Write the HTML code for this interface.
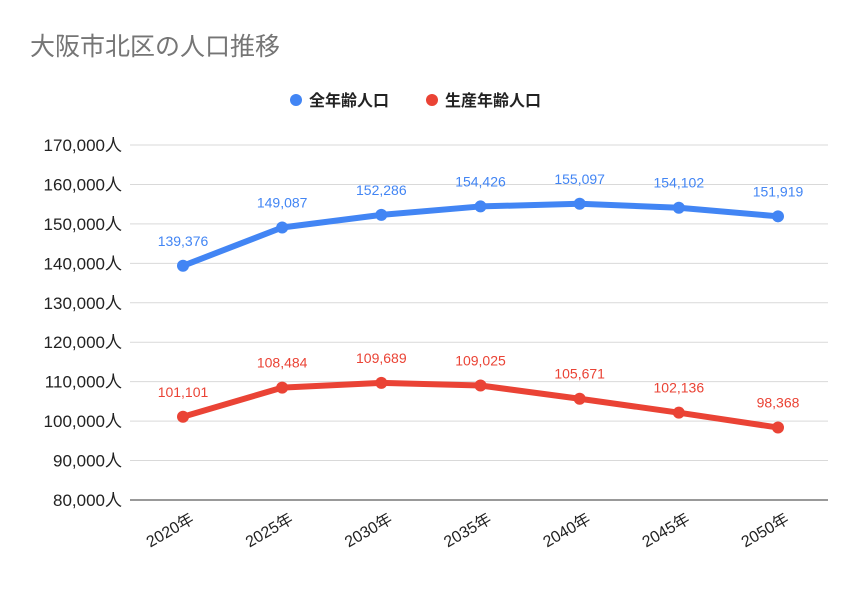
<!DOCTYPE html>
<html><head><meta charset="utf-8"><style>
body{margin:0;background:#fff;}
svg text{font-family:"Liberation Sans","Noto Sans CJK JP",sans-serif;}
</style></head><body>
<svg width="857" height="586" xmlns="http://www.w3.org/2000/svg">
<text x="30" y="55" font-size="25" fill="#757575">大阪市北区の人口推移</text>
<g>
<circle cx="296" cy="100" r="6" fill="#4285f4"/>
<text x="309" y="106" font-size="16" font-weight="bold" fill="#222">全年齢人口</text>
<circle cx="432" cy="100" r="6" fill="#ea4335"/>
<text x="445" y="106" font-size="16" font-weight="bold" fill="#222">生産年齢人口</text>
</g>
<g id="grid"></g>
<g id="yl"></g>
<g id="xl"></g>
<g id="series"></g>
</svg>
<script>
const categories=["2020年","2025年","2030年","2035年","2040年","2045年","2050年"];
const totalValues=[139376,149087,152286,154426,155097,154102,151919];
const workingValues=[101101,108484,109689,109025,105671,102136,98368];
const yTicks=[80000,90000,100000,110000,120000,130000,140000,150000,160000,170000];
const NS="http://www.w3.org/2000/svg";
const yMin=80000,yMax=170000,plotTop=145,plotBot=500,x0=183,x1=778,plotLeft=130,plotRight=828;
function y(v){return plotBot-(v-yMin)/(yMax-yMin)*(plotBot-plotTop);}
function x(i){return x0+i*(x1-x0)/(categories.length-1);}
function mk(t,a,p){const e=document.createElementNS(NS,t);for(const k in a)e.setAttribute(k,a[k]);p.appendChild(e);return e;}
const fmt=v=>v.toLocaleString('en-US');
const grid=document.getElementById('grid'),yl=document.getElementById('yl'),xl=document.getElementById('xl'),ser=document.getElementById('series');
yTicks.forEach(t=>{
 const l=mk('line',{x1:plotLeft,x2:plotRight,y1:y(t),y2:y(t),stroke:t===yMin?'#333':'#d9d9d9','stroke-width':1},grid);
 
 
 const tx=mk('text',{x:122,y:y(t)+6,'font-size':17,'text-anchor':'end',fill:'#222'},yl);
 tx.textContent=fmt(t)+'人';
 
 
});
categories.forEach((c,i)=>{
 const tx=mk('text',{x:x(i)+12,y:522,'font-size':16,'text-anchor':'end',fill:'#222',transform:`rotate(-30 ${x(i)+12} 522)`},xl);
 tx.textContent=c;
 
 
});
function draw(vals,color,name){
 const g=mk('g',{},ser);
 
 
 const p=mk('polyline',{points:vals.map((v,i)=>x(i)+','+y(v)).join(' '),fill:'none',stroke:color,'stroke-width':6,'stroke-linejoin':'round'},g);
 
 
 vals.forEach((v,i)=>{
  const c=mk('circle',{cx:x(i),cy:y(v),r:6,fill:color},g);
  
  
  const t=mk('text',{x:x(i),y:y(v)-20,'font-size':14,'text-anchor':'middle',fill:color},g);
  t.textContent=fmt(v);
  
  
 });
}
draw(totalValues,'#4285f4','total');
draw(workingValues,'#ea4335','working');
</script>
</body></html>
